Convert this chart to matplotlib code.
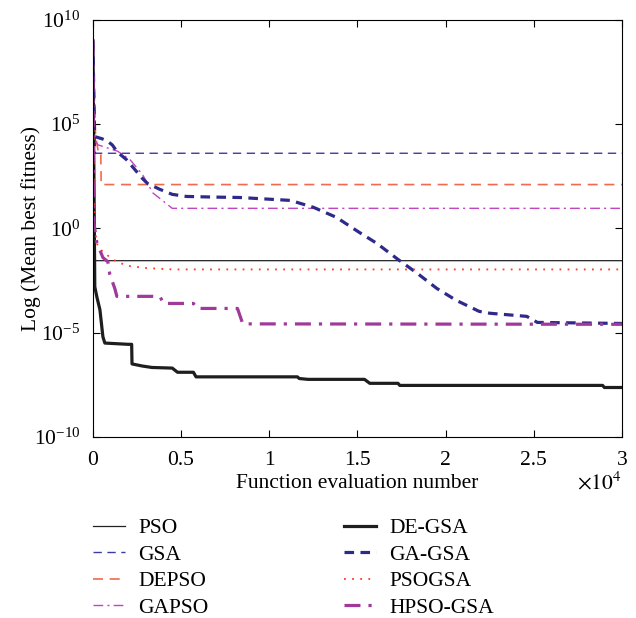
import matplotlib
matplotlib.use('Agg')
import numpy as np
import matplotlib.pyplot as plt

plt.rcParams['font.family'] = 'Liberation Serif'
plt.rcParams['mathtext.fontset'] = 'stix'
plt.rcParams['font.size'] = 15.5

# function evaluations and log10(mean best fitness)
pso_x = [0, 60, 30000]
pso_y = [9.0, -1.55, -1.55]

gsa_x = [0, 150, 30000]
gsa_y = [9.0, 3.6, 3.6]

depso_x = [0, 150, 300, 450, 470, 30000]
depso_y = [9.0, 4.5, 3.7, 3.7, 2.1, 2.1]

gapso_x = [0, 100, 300, 1400, 2100, 2800, 3400, 4000, 4500, 30000]
gapso_y = [9.0, 4.2, 4.0, 3.7, 3.3, 2.6, 1.7, 1.3, 0.96, 0.96]

degsa_x = [0, 110, 230, 400, 570, 680, 2000, 2200, 2220, 2800, 3350, 4500, 4800,
           5700, 5850, 11600, 11700, 12200, 15400, 15700, 17300, 17400, 28900, 29000, 30000]
degsa_y = [9.0, -2.8, -3.3, -3.9, -5.2, -5.5, -5.56, -5.56, -6.5, -6.6, -6.67, -6.7, -6.9,
           -6.9, -7.12, -7.12, -7.2, -7.24, -7.24, -7.43, -7.43, -7.53, -7.53, -7.63, -7.63]

gagsa_x = [0, 100, 500, 800, 1100, 1400, 1900, 2300, 2800, 3100, 3800, 4500, 5300, 6800,
           8300, 11200, 12500, 13800, 15100, 16100, 17300, 18400, 19500, 20600, 21900,
           22500, 24600, 25200, 30000]
gagsa_y = [9.0, 4.4, 4.3, 4.2, 4.0, 3.65, 3.3, 2.9, 2.4, 2.15, 1.87, 1.63, 1.53, 1.5,
           1.48, 1.34, 1.01, 0.53, -0.19, -0.72, -1.49, -2.16, -2.88, -3.45, -3.98,
           -4.07, -4.22, -4.51, -4.56]

psogsa_x = [0, 100, 280, 680, 1080, 1360, 2000, 2950, 4500, 30000]
psogsa_y = [9.0, 0.0, -0.9, -1.2, -1.45, -1.6, -1.8, -1.9, -1.97, -1.97]

hpso_x = [0, 50, 230, 570, 850, 960, 1250, 1360, 3800, 4000, 5700, 5900, 8200, 8500, 30000]
hpso_y = [9.0, 0.3, -0.7, -1.4, -1.6, -2.2, -2.9, -3.26, -3.26, -3.6, -3.6, -3.84, -3.84,
          -4.58, -4.6]

fig = plt.figure(figsize=(6.36, 6.18), dpi=100)
ax = fig.add_axes([0.146, 0.293, 0.832, 0.675])

def p(x, y, **kw):
    ax.semilogy(x, 10**np.array(y), **kw)

p(pso_x, pso_y, color='#222222', lw=0.9, label='PSO')
p(gsa_x, gsa_y, color='#3f3a9f', lw=1.0, dashes=(6, 4), label='GSA')
p(depso_x, depso_y, color='#f06a4e', lw=1.2, dashes=(6, 4), label='DEPSO')
p(gapso_x, gapso_y, color='#c045c0', lw=1.0, dashes=(7, 3, 1.5, 3), label='GAPSO')
p(degsa_x, degsa_y, color='#1e1e1e', lw=2.3, label='DE-GSA')
p(gagsa_x, gagsa_y, color='#2d2a8c', lw=2.3, dashes=(3, 2), label='GA-GSA')
p(psogsa_x, psogsa_y, color='#ff3a20', lw=1.3, dashes=(1, 3.5), label='PSOGSA')
p(hpso_x, hpso_y, color='#a03a9a', lw=2.3, dashes=(5, 2.5, 1, 2.5), label='HPSO-GSA')

ax.set_xlim(0, 30000)
ax.set_ylim(1e-10, 1e10)
ax.set_yticks([1e-10, 1e-5, 1e0, 1e5, 1e10])
ax.yaxis.set_minor_locator(matplotlib.ticker.NullLocator())
ax.set_xticks([0, 5000, 10000, 15000, 20000, 25000, 30000])
ax.set_xticklabels(['0', '0.5', '1', '1.5', '2', '2.5', '3'])
ax.tick_params(direction='in', top=True, right=True, length=5, width=0.8)
ax.tick_params(axis='x', pad=10)
ax.tick_params(axis='y', pad=9)
ax.set_xlabel('Function evaluation number', labelpad=3)
ax.set_ylabel('Log (Mean best fitness)', labelpad=-5)
ax.text(1.0, -0.112, r'$\times10^4$', transform=ax.transAxes, ha='right', va='center')

fig.legend(loc='upper left', bbox_to_anchor=(0.146, 0.1615), ncol=2, frameon=False,
           handlelength=1.5, handletextpad=0.6, columnspacing=6.3, labelspacing=0.3,
           borderaxespad=0, borderpad=0)

plt.savefig('out.png', dpi=100)
